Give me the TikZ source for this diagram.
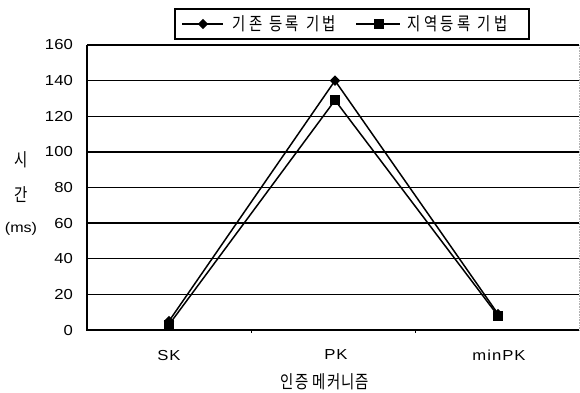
\documentclass[tikz,border=0pt]{standalone}
\usepackage{fontspec}
\setmainfont{Liberation Sans}
\newfontfamily\latf[FakeStretch=1.15]{Liberation Sans}
\newfontfamily\latw[FakeStretch=1.15,LetterSpace=7]{Liberation Sans}
\newfontfamily\korleg[FakeStretch=0.8,LetterSpace=20]{Noto Sans CJK KR}
\newfontfamily\kortit[FakeStretch=0.8,LetterSpace=6]{Noto Sans CJK KR}
\usetikzlibrary{shapes.geometric}
\begin{document}
\begin{tikzpicture}[x=1pt,y=-1pt,
  grid/.style={line width=1.4pt,black},
  series/.style={line width=1.5pt,black},
  dmark/.style={diamond,fill=black,inner sep=0pt,minimum width=10.5pt,minimum height=10.5pt},
  smark/.style={rectangle,fill=black,inner sep=0pt,minimum width=10pt,minimum height=10pt},
  tlab/.style={font=\latf\fontsize{14.5}{14.5}\selectfont,anchor=east,inner sep=0pt},
  clab/.style={font=\latw\fontsize{14.5}{14.5}\selectfont,inner sep=0pt},
  klab/.style={font=\korleg\fontsize{18}{18}\selectfont,inner sep=0pt},
  ktitle/.style={font=\kortit\fontsize{18}{18}\selectfont,inner sep=0pt}]
\useasboundingbox (0,0) rectangle (580,392);
% plot area
\coordinate (bl) at (87,330);
\coordinate (tl) at (87,45);
\coordinate (br) at (579,330);
\coordinate (tr) at (579,45);
\draw[gray!60,line width=0.6pt,densely dotted] (tr) -- (br);
\begin{scope}[shift={(0,330)},y=1.78125pt]
  \foreach \v in {20,40,...,160}{
    \draw[grid] (87,\v) -- (579,\v);
  }
  \foreach \v in {0,20,...,160}{
    \node[tlab] (t\v) at (73,\v) {\v};
  }
  % data
  \node[dmark] (d1) at (169,5) {};
  \node[dmark] (d2) at (335,140) {};
  \node[dmark] (d3) at (498,9) {};
  \node[smark] (s1) at (169,3) {};
  \node[smark] (s2) at (335,129) {};
  \node[smark] (s3) at (498,8) {};
  \draw[series] (d1.center) -- (d2.center) -- (d3.center);
  \draw[series] (s1.center) -- (s2.center) -- (s3.center);
\end{scope}
\draw[grid,line width=1.6pt] (tl) -- (bl) -- (br);
\draw[line width=0.8pt] (251,330) -- (251,333) (415,330) -- (415,333);
% category labels
\node[clab] (c1) at (169,355) {SK};
\node[clab] (c2) at (336,355) {PK};
\node[clab] (c3) at (499,355) {minPK};
\node[ktitle] (xt) at (325,382) {인증 메커니즘};
% y title
\node[ktitle] (y1) at (21,160) {시};
\node[ktitle] (y2) at (21,195) {간};
\node[font=\latf\fontsize{14}{14}\selectfont,inner sep=0pt] (y3) at (21,229) {(ms)};
% legend
\node[draw,line width=1.3pt,minimum width=354pt,minimum height=30pt,inner sep=0pt] (leg) at (352,24) {};
\coordinate (l1a) at (182,24);
\coordinate (l1b) at (223,24);
\coordinate (l2a) at (356,24);
\coordinate (l2b) at (400,24);
\draw[series] (l1a) -- (l1b);
\draw[series] (l2a) -- (l2b);
\node[dmark] (ld) at (203,24) {};
\node[smark] (ls) at (379,24) {};
\node[klab,anchor=west] (lt1) at (232,24) {기존 등록 기법};
\node[klab,anchor=west] (lt2) at (407,24) {지역등록 기법};
\end{tikzpicture}
\end{document}
